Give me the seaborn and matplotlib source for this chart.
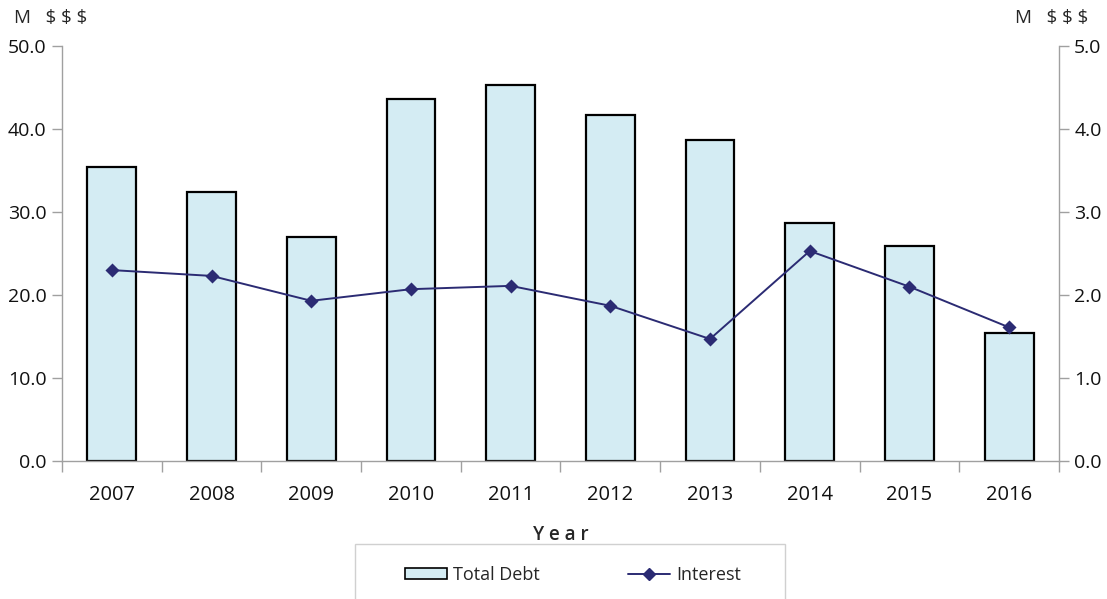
import matplotlib
matplotlib.use("Agg")
import matplotlib.pyplot as plt
from matplotlib.patches import Rectangle, Patch
from matplotlib.lines import Line2D
from matplotlib.ticker import FixedLocator, FormatStrFormatter
import seaborn as sns
import pandas as pd

years = ["2007", "2008", "2009", "2010", "2011", "2012", "2013", "2014", "2015", "2016"]
total_debt = [35.4, 32.4, 27.0, 43.6, 45.3, 41.7, 38.7, 28.7, 25.9, 15.4]
interest = [2.30, 2.23, 1.93, 2.07, 2.11, 1.87, 1.47, 2.53, 2.10, 1.61]

bar_color = "#D4ECF3"
line_color = "#2B2B73"
axis_gray = "#A0A0A0"

sns.set_theme(style="white")
plt.rcParams["font.family"] = ["Open Sans", "DejaVu Sans"]

df = pd.DataFrame({"Year": years, "Total Debt": total_debt, "Interest": interest})

fig = plt.figure(figsize=(11.07, 5.99), dpi=100)
ax = fig.add_axes([0.056, 0.2304, 0.9006, 0.6928])

sns.barplot(data=df, x="Year", y="Total Debt", ax=ax, color=bar_color,
            edgecolor="black", linewidth=1.6, width=0.49, saturation=1)

ax2 = ax.twinx()
sns.pointplot(data=df, x="Year", y="Interest", ax=ax2, color=line_color,
              markers="D", linestyles="-", markersize=6, linewidth=1.4)

ax.set_xlim(-0.5, len(years) - 0.5)
ax.set_ylim(0, 50)
ax2.set_ylim(0, 5)
ax.set_yticks([0, 10, 20, 30, 40, 50])
ax2.set_yticks([0, 1, 2, 3, 4, 5])
ax.yaxis.set_major_formatter(FormatStrFormatter("%.1f"))
ax2.yaxis.set_major_formatter(FormatStrFormatter("%.1f"))

# category labels at centres, tick marks at category boundaries
ax.xaxis.set_minor_locator(FixedLocator([i - 0.5 for i in range(len(years) + 1)]))
ax.tick_params(axis="x", which="major", length=0, pad=17, labelsize=14.5, labelcolor="#111111")
ax.tick_params(axis="x", which="minor", length=8, width=1, color=axis_gray, direction="out", bottom=True)
ax.tick_params(axis="y", length=7, width=1, color=axis_gray, direction="out", left=True,
               labelsize=14, labelcolor="#111111", pad=4)
ax2.tick_params(axis="y", length=7, width=1, color=axis_gray, direction="out", right=True,
                labelsize=14, labelcolor="#111111", pad=4)

for a in (ax, ax2):
    a.spines["top"].set_visible(False)
    for s in ("left", "right", "bottom"):
        a.spines[s].set_color(axis_gray)
        a.spines[s].set_linewidth(1)
ax.spines["right"].set_visible(False)
ax2.spines["left"].set_visible(False)
ax2.spines["bottom"].set_visible(False)

ax.set_ylabel("")
ax2.set_ylabel("")
ax.set_xlabel("Y e a r", fontsize=13.5, fontweight="semibold")
ax.xaxis.set_label_coords(0.5, -0.155)

fig.text(0.013, 0.955, "M   $ $ $", fontsize=13.5, ha="left", va="bottom")
fig.text(0.917, 0.955, "M   $ $ $", fontsize=13.5, ha="left", va="bottom")

# legend frame and entries
fig.patches.append(Rectangle((355 / 1107, -0.05), 430 / 1107, 1 - 544 / 599 + 0.05,
                             transform=fig.transFigure, facecolor="white",
                             edgecolor="#D0D0D0", linewidth=1, zorder=0))
handles = [Patch(facecolor=bar_color, edgecolor="black", linewidth=1.2),
           Line2D([], [], color=line_color, marker="D", markersize=6, linewidth=1.4)]
leg = fig.legend(handles, ["Total Debt", "Interest"], ncol=2, frameon=False,
                 loc="center", bbox_to_anchor=(573 / 1107, 1 - 575 / 599),
                 handlelength=2.3, handleheight=0.6, columnspacing=4.9,
                 handletextpad=0.35,
                 prop={"family": ["Open Sans", "DejaVu Sans"], "size": 13})

fig.savefig("out.png", dpi=100)
